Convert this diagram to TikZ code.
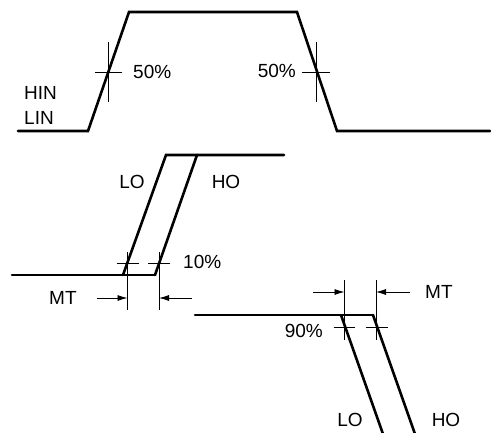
\documentclass[tikz,border=0pt]{standalone}
\usepackage{fontspec}
\setmainfont{Liberation Sans}
\usetikzlibrary{arrows.meta}
\begin{document}
\begin{tikzpicture}[x=1pt,y=-1pt,
  wave/.style={line width=2.6pt,line join=miter,line cap=round},
  thin/.style={line width=0.8pt},
  dim/.style={line width=0.8pt,-{Latex[length=10pt,width=6pt]}},
  lbl/.style={font=\fontsize{19}{21}\selectfont,inner sep=0pt}]
\useasboundingbox (0,0) rectangle (491,432);
% top waveform
\coordinate (t0) at (18,131);
\coordinate (t1) at (88,131);
\coordinate (t2) at (129,12);
\coordinate (t3) at (297,12);
\coordinate (t4) at (337,131);
\coordinate (t5) at (490,131);
\draw[wave] (t0) -- (t1) -- (t2) -- (t3) -- (t4) -- (t5);
% 50% crosshairs
\coordinate (c1) at (108,72);
\draw[thin] ([yshift=-30pt]c1) -- ([yshift=30pt]c1);
\draw[thin] ([xshift=-13pt]c1) -- ([xshift=14pt]c1);
\coordinate (c2) at (316,72);
\draw[thin] ([yshift=-30pt]c2) -- ([yshift=30pt]c2);
\draw[thin] ([xshift=-14pt]c2) -- ([xshift=14pt]c2);
\node[lbl,anchor=west] (p1) at (133,72) {50\%};
\node[lbl,anchor=east] (p2) at (296,71) {50\%};
\node[lbl,anchor=west] (hin) at (24,93) {HIN};
\node[lbl,anchor=west] (lin) at (24,118) {LIN};
% middle waveform
\coordinate (m0) at (12,275);
\coordinate (m1) at (123,275);
\coordinate (m2) at (155,275);
\coordinate (m3) at (166,155);
\coordinate (m4) at (197,155);
\coordinate (m5) at (284,155);
\draw[wave] (m0) -- (m2);
\draw[wave] (m1) -- (m3) -- (m5);
\draw[wave] (m2) -- (m4);
\coordinate (ca) at (127.5,263);
\coordinate (cb) at (159,263);
\draw[thin] ([xshift=-11pt]ca) -- ([xshift=11pt]ca);
\draw[thin] ([xshift=-11pt]cb) -- ([xshift=11pt]cb);
\coordinate (va1) at (127.5,252);
\coordinate (va2) at (127.5,310);
\coordinate (vb1) at (159,252);
\coordinate (vb2) at (159,310);
\draw[thin] (va1) -- (va2);
\draw[thin] (vb1) -- (vb2);
\coordinate (aa) at (97,298);
\coordinate (ab) at (192,298);
\draw[dim] (aa) -- (aa -| va1);
\draw[dim] (ab) -- (ab -| vb1);
\node[lbl,anchor=west] (p3) at (183,262) {10\%};
\node[lbl,anchor=west] (mt1) at (49,298) {MT};
\node[lbl] (lo1) at (132,182) {LO};
\node[lbl] (ho1) at (226,182) {HO};
% bottom waveform
\coordinate (b0) at (195,315);
\coordinate (b1) at (341,315);
\coordinate (b2) at (373,315);
\coordinate (b3) at (383,434);
\coordinate (b4) at (415,434);
\draw[wave] (b0) -- (b2);
\draw[wave] (b1) -- (b3);
\draw[wave] (b2) -- (b4);
\coordinate (cc) at (344.5,327);
\coordinate (cd) at (376,327);
\draw[thin] ([xshift=-11pt]cc) -- ([xshift=10pt]cc);
\draw[thin] ([xshift=-10pt]cd) -- ([xshift=12pt]cd);
\coordinate (vc1) at (344.5,280);
\coordinate (vc2) at (344.5,340);
\coordinate (vd1) at (376,280);
\coordinate (vd2) at (376,340);
\draw[thin] (vc1) -- (vc2);
\draw[thin] (vd1) -- (vd2);
\coordinate (ac) at (313,292);
\coordinate (ad) at (410,292);
\draw[dim] (ac) -- (ac -| vc1);
\draw[dim] (ad) -- (ad -| vd1);
\node[lbl,anchor=east] (p4) at (323,331) {90\%};
\node[lbl,anchor=west] (mt2) at (425,292) {MT};
\node[lbl] (lo2) at (350,420) {LO};
\node[lbl] (ho2) at (446,420) {HO};
\end{tikzpicture}
\end{document}
